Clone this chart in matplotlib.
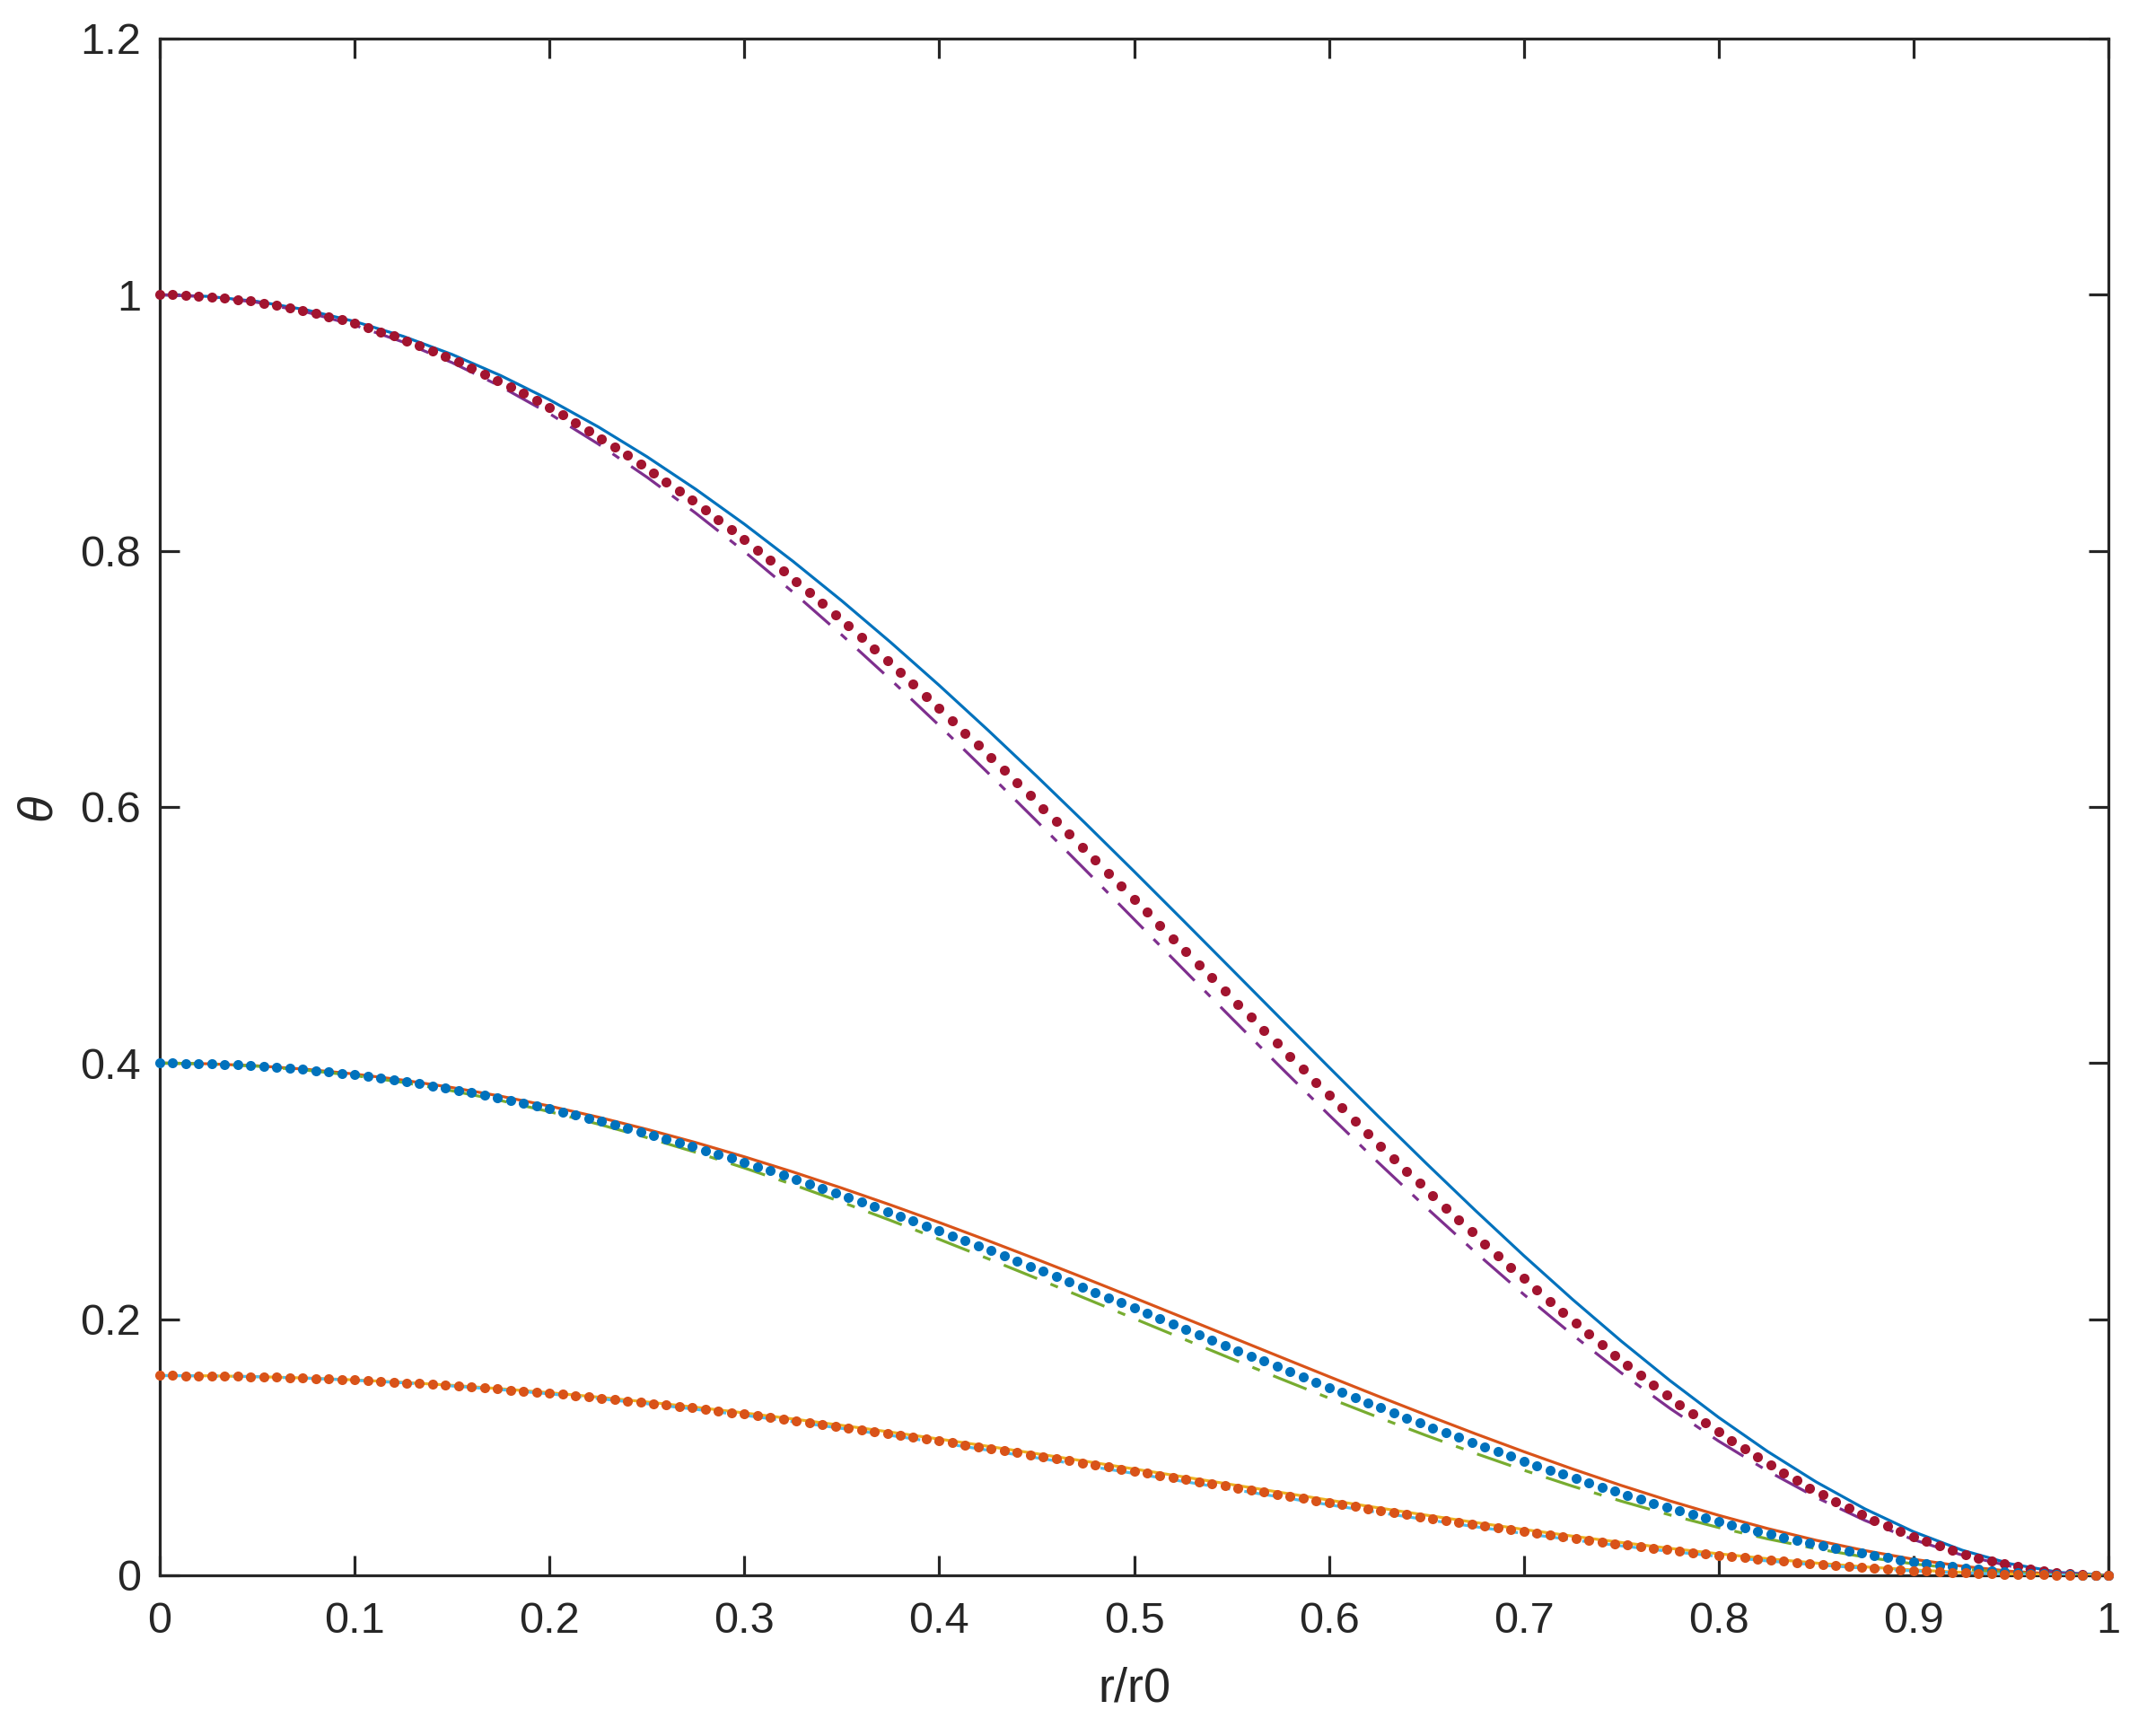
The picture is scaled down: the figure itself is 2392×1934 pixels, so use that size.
import numpy as np
import matplotlib
matplotlib.use("Agg")
import matplotlib.pyplot as plt

plt.rcParams['font.family'] = ['Liberation Sans', 'DejaVu Sans']
plt.rcParams['lines.scale_dashes'] = False

# ---------------- data ----------------
# dotted series, sampled at r/r0 = 0, 1/150, ..., 1
top_dots = [
    1.0, 0.9999, 0.9996, 0.99909, 0.99839, 0.99748, 0.99637, 0.99506, 0.99356, 0.99185,
    0.98994, 0.98784, 0.98554, 0.98304, 0.98035, 0.97746, 0.97438, 0.97111, 0.96765, 0.964,
    0.96016, 0.95614, 0.95193, 0.94753, 0.94295, 0.9382, 0.93327, 0.92816, 0.92288, 0.91743,
    0.91179, 0.906, 0.90004, 0.89391, 0.88763, 0.88119, 0.8746, 0.86785, 0.86095, 0.8539,
    0.84671, 0.83937, 0.8319, 0.82427, 0.81653, 0.80865, 0.80064, 0.79251, 0.78426, 0.77588,
    0.7674, 0.7588, 0.75009, 0.74128, 0.73236, 0.72335, 0.71424, 0.70504, 0.69575, 0.68637,
    0.67692, 0.66739, 0.65779, 0.64812, 0.63838, 0.62858, 0.61871, 0.6088, 0.59884, 0.58882,
    0.57878, 0.56868, 0.55856, 0.5484, 0.53821, 0.528, 0.51777, 0.50754, 0.49729, 0.48704,
    0.47678, 0.46652, 0.45627, 0.44602, 0.43579, 0.42559, 0.4154, 0.40523, 0.39511, 0.38502,
    0.37496, 0.36495, 0.35498, 0.34508, 0.33521, 0.32541, 0.31568, 0.30601, 0.29643, 0.28691,
    0.27748, 0.26813, 0.25887, 0.2497, 0.24062, 0.23166, 0.2228, 0.21405, 0.20541, 0.19688,
    0.18848, 0.1802, 0.17207, 0.16405, 0.15618, 0.14846, 0.14087, 0.13345, 0.12617, 0.11905,
    0.1121, 0.10531, 0.0987, 0.09226, 0.086, 0.07992, 0.07403, 0.06834, 0.06283, 0.05753,
    0.05245, 0.04755, 0.04288, 0.03842, 0.03418, 0.03018, 0.02639, 0.02284, 0.01953, 0.01647,
    0.01365, 0.01109, 0.00878, 0.00673, 0.00494, 0.00343, 0.00219, 0.00122, 0.00053, 0.00013,
    0.0]

mid_dots = [
    0.4, 0.39996, 0.39984, 0.39963, 0.39935, 0.39898, 0.39853, 0.398, 0.39739, 0.3967,
    0.39592, 0.39507, 0.39414, 0.39313, 0.39204, 0.39087, 0.38962, 0.38829, 0.38689, 0.38541,
    0.38385, 0.38222, 0.38051, 0.37873, 0.37688, 0.37495, 0.37295, 0.37088, 0.36874, 0.36653,
    0.36425, 0.3619, 0.35949, 0.35701, 0.35446, 0.35185, 0.34918, 0.34645, 0.34365, 0.3408,
    0.33788, 0.3349, 0.33188, 0.32879, 0.32565, 0.32246, 0.31921, 0.31591, 0.31257, 0.30917,
    0.30573, 0.30224, 0.29871, 0.29513, 0.29151, 0.28786, 0.28416, 0.28043, 0.27666, 0.27286,
    0.26898, 0.26516, 0.26127, 0.25735, 0.2534, 0.24943, 0.24543, 0.24141, 0.23737, 0.23331,
    0.22924, 0.22515, 0.22105, 0.21693, 0.2128, 0.20867, 0.20453, 0.20039, 0.19624, 0.19209,
    0.18794, 0.18379, 0.17964, 0.1755, 0.17137, 0.16725, 0.16314, 0.15904, 0.15496, 0.15089,
    0.14684, 0.1428, 0.13878, 0.1348, 0.13083, 0.1269, 0.12298, 0.11911, 0.11526, 0.11144,
    0.10766, 0.10391, 0.10021, 0.09654, 0.09292, 0.08934, 0.08581, 0.08232, 0.07889, 0.0755,
    0.07216, 0.06888, 0.06565, 0.06249, 0.05938, 0.05633, 0.05335, 0.05043, 0.04758, 0.04479,
    0.04209, 0.03944, 0.03688, 0.03439, 0.03196, 0.02962, 0.02734, 0.02516, 0.02305, 0.02103,
    0.0191, 0.01725, 0.01549, 0.01381, 0.01223, 0.01074, 0.00934, 0.00804, 0.00683, 0.00571,
    0.0047, 0.00378, 0.00296, 0.00225, 0.00163, 0.00111, 0.0007, 0.00038, 0.00016, 0.00004,
    0.0]

bot_dots = [
    0.156, 0.15598, 0.15594, 0.15586, 0.15575, 0.1556, 0.15543, 0.15523, 0.15499, 0.15472,
    0.15442, 0.15409, 0.15373, 0.15334, 0.15292, 0.15247, 0.15198, 0.15147, 0.15093, 0.15035,
    0.14975, 0.14912, 0.14846, 0.14777, 0.14705, 0.1463, 0.14552, 0.14472, 0.14389, 0.14303,
    0.14215, 0.14124, 0.1403, 0.13933, 0.13834, 0.13733, 0.1363, 0.13523, 0.13415, 0.13303,
    0.1319, 0.13074, 0.12956, 0.12836, 0.12714, 0.12589, 0.12463, 0.12334, 0.12204, 0.12071,
    0.11937, 0.11801, 0.11663, 0.11523, 0.11382, 0.11239, 0.11094, 0.10948, 0.108, 0.10651,
    0.10498, 0.10349, 0.10196, 0.10042, 0.09887, 0.09731, 0.09574, 0.09416, 0.09257, 0.09098,
    0.08938, 0.08777, 0.08616, 0.08454, 0.08292, 0.08129, 0.07966, 0.07803, 0.07639, 0.07475,
    0.07312, 0.07148, 0.06984, 0.0682, 0.06657, 0.06494, 0.06331, 0.06168, 0.06007, 0.05846,
    0.05685, 0.05526, 0.05367, 0.0521, 0.05053, 0.04898, 0.04744, 0.04591, 0.04439, 0.04289,
    0.04141, 0.03994, 0.03848, 0.03704, 0.03561, 0.0342, 0.03281, 0.03144, 0.03008, 0.02875,
    0.02744, 0.02615, 0.02488, 0.02364, 0.02243, 0.02124, 0.02008, 0.01894, 0.01783, 0.01675,
    0.0157, 0.01468, 0.01369, 0.01273, 0.0118, 0.0109, 0.01003, 0.0092, 0.0084, 0.00764,
    0.0069, 0.00621, 0.00555, 0.00493, 0.00434, 0.00379, 0.00328, 0.0028, 0.00236, 0.00196,
    0.0016, 0.00127, 0.00098, 0.00074, 0.00053, 0.00036, 0.00022, 0.00012, 0.00005, 0.00001,
    0.0]

# solid and dash-dot series, sampled at r/r0 = 0, 0.025, ..., 1
top_solid = [
    1.0, 0.99869, 0.99476, 0.98822, 0.97912, 0.96749, 0.95337, 0.93684, 0.91797, 0.89683,
    0.87353, 0.84817, 0.82088, 0.79177, 0.76098, 0.72865, 0.69495, 0.66002, 0.62405, 0.58722,
    0.5497, 0.51168, 0.4734, 0.43503, 0.39677, 0.35888, 0.3216, 0.28511, 0.24965, 0.21548,
    0.18289, 0.15207, 0.1233, 0.09683, 0.07295, 0.05193, 0.03405, 0.0196, 0.00891, 0.00227,
    0.0]
top_dashdot = [
    1.0, 0.9985, 0.99401, 0.98656, 0.9762, 0.96298, 0.94699, 0.92834, 0.90712, 0.88347,
    0.85754, 0.82948, 0.79947, 0.76768, 0.7343, 0.69953, 0.6636, 0.62668, 0.58901, 0.55081,
    0.51229, 0.47368, 0.43521, 0.39708, 0.35954, 0.3228, 0.28705, 0.25249, 0.21933, 0.18783,
    0.15808, 0.13036, 0.10479, 0.08156, 0.06088, 0.04291, 0.02782, 0.01579, 0.00704, 0.00173,
    0.0]
mid_solid = [
    0.4, 0.39946, 0.39785, 0.39518, 0.39145, 0.38669, 0.38091, 0.37415, 0.36644, 0.35781,
    0.34828, 0.33797, 0.32683, 0.31497, 0.3024, 0.28924, 0.27555, 0.26138, 0.2468, 0.23189,
    0.21673, 0.20139, 0.18598, 0.17056, 0.1552, 0.14004, 0.12517, 0.11063, 0.09658, 0.08306,
    0.07021, 0.0581, 0.04685, 0.03658, 0.02737, 0.01933, 0.01254, 0.00712, 0.00317, 0.00078,
    0.0]
mid_dashdot = [
    0.4, 0.39939, 0.39756, 0.39451, 0.39028, 0.38488, 0.37835, 0.37072, 0.36205, 0.35237,
    0.34181, 0.33034, 0.31811, 0.30509, 0.29142, 0.27716, 0.26239, 0.24728, 0.23188, 0.21626,
    0.20053, 0.18479, 0.16913, 0.15361, 0.1384, 0.12356, 0.10915, 0.09531, 0.0821, 0.06961,
    0.05793, 0.04713, 0.03731, 0.02851, 0.02081, 0.01428, 0.00895, 0.00486, 0.00203, 0.00045,
    0.0]
bot_solid = [
    0.156, 0.15579, 0.15514, 0.15408, 0.15259, 0.15069, 0.14838, 0.14569, 0.14261, 0.13916,
    0.13537, 0.13125, 0.12682, 0.12209, 0.1171, 0.11186, 0.10641, 0.10077, 0.09497, 0.08906,
    0.08305, 0.07697, 0.07088, 0.06479, 0.05873, 0.05278, 0.04696, 0.04128, 0.03582, 0.0306,
    0.02567, 0.02106, 0.01682, 0.01297, 0.00956, 0.00663, 0.0042, 0.00232, 0.00099, 0.00023,
    0.0]
bot_dashdot = [
    0.156, 0.15577, 0.15508, 0.15394, 0.15234, 0.15031, 0.14785, 0.14497, 0.14169, 0.13802,
    0.134, 0.12963, 0.12494, 0.11996, 0.11472, 0.10925, 0.10358, 0.09774, 0.09177, 0.0857,
    0.07956, 0.07339, 0.06722, 0.06111, 0.0551, 0.0492, 0.04349, 0.03797, 0.03268, 0.02769,
    0.023, 0.01868, 0.01475, 0.01123, 0.00815, 0.00555, 0.00345, 0.00185, 0.00076, 0.00016,
    0.0]

x_ticks = [0, 0.1, 0.2, 0.3, 0.4, 0.5, 0.6, 0.7, 0.8, 0.9, 1.0]
x_tick_labels = ['0', '0.1', '0.2', '0.3', '0.4', '0.5', '0.6', '0.7', '0.8', '0.9', '1']
y_ticks = [0, 0.2, 0.4, 0.6, 0.8, 1.0, 1.2]
y_tick_labels = ['0', '0.2', '0.4', '0.6', '0.8', '1', '1.2']

r_dots = np.linspace(0, 1, len(top_dots))
r_line = np.linspace(0, 1, len(top_solid))

# MATLAB default colour order
C_BLUE = '#0072BD'
C_ORANGE = '#D95319'
C_YELLOW = '#EDB120'
C_PURPLE = '#7E2F8E'
C_GREEN = '#77AC30'
C_LBLUE = '#4DBEEE'
C_RED = '#A2142F'
AX_COL = '#262626'

# ---------------- figure ----------------
W, H = 2392, 1934
DPI = 200
fig = plt.figure(figsize=(W / DPI, H / DPI), dpi=DPI)
left, right, top, bottom = 178, 2349, 43, 1755
ax = fig.add_axes([left / W, 1 - bottom / H, (right - left) / W, (bottom - top) / H])

LW = 1.15
DASHDOT = (14.4, 5.8, 3.2, 5.8)
MS = 4.0

ax.plot(r_line, top_solid, '-', color=C_BLUE, lw=LW)
ax.plot(r_line, mid_solid, '-', color=C_ORANGE, lw=LW)
ax.plot(r_line, bot_solid, '-', color=C_YELLOW, lw=LW)
ax.plot(r_line, top_dashdot, color=C_PURPLE, lw=LW, dashes=DASHDOT)
ax.plot(r_line, mid_dashdot, color=C_GREEN, lw=LW, dashes=DASHDOT)
ax.plot(r_line, bot_dashdot, color=C_LBLUE, lw=LW, dashes=DASHDOT)
ax.plot(r_dots, top_dots, linestyle='none', marker='o', ms=MS, mew=0, color=C_RED, clip_on=False)
ax.plot(r_dots, mid_dots, linestyle='none', marker='o', ms=MS, mew=0, color=C_BLUE, clip_on=False)
ax.plot(r_dots, bot_dots, linestyle='none', marker='o', ms=MS, mew=0, color=C_ORANGE, clip_on=False)

ax.set_xlim(0, 1)
ax.set_ylim(0, 1.2)
ax.set_xticks(x_ticks)
ax.set_xticklabels(x_tick_labels)
ax.set_yticks(y_ticks)
ax.set_yticklabels(y_tick_labels)

for s in ax.spines.values():
    s.set_linewidth(1.15)
    s.set_color(AX_COL)
    s.set_zorder(0.5)

ax.tick_params(axis='both', which='major', direction='in', length=7.9, width=1.15,
               top=True, right=True, color=AX_COL, labelcolor=AX_COL, labelsize=17.5)
ax.tick_params(axis='x', pad=10.5)
ax.tick_params(axis='y', pad=7.5)

ax.set_xlabel('r/r0', fontsize=19.5, color=AX_COL, labelpad=10)
ax.set_ylabel('θ', fontsize=19.5, color=AX_COL, style='italic', labelpad=8)

fig.savefig('out.png', dpi=DPI)
